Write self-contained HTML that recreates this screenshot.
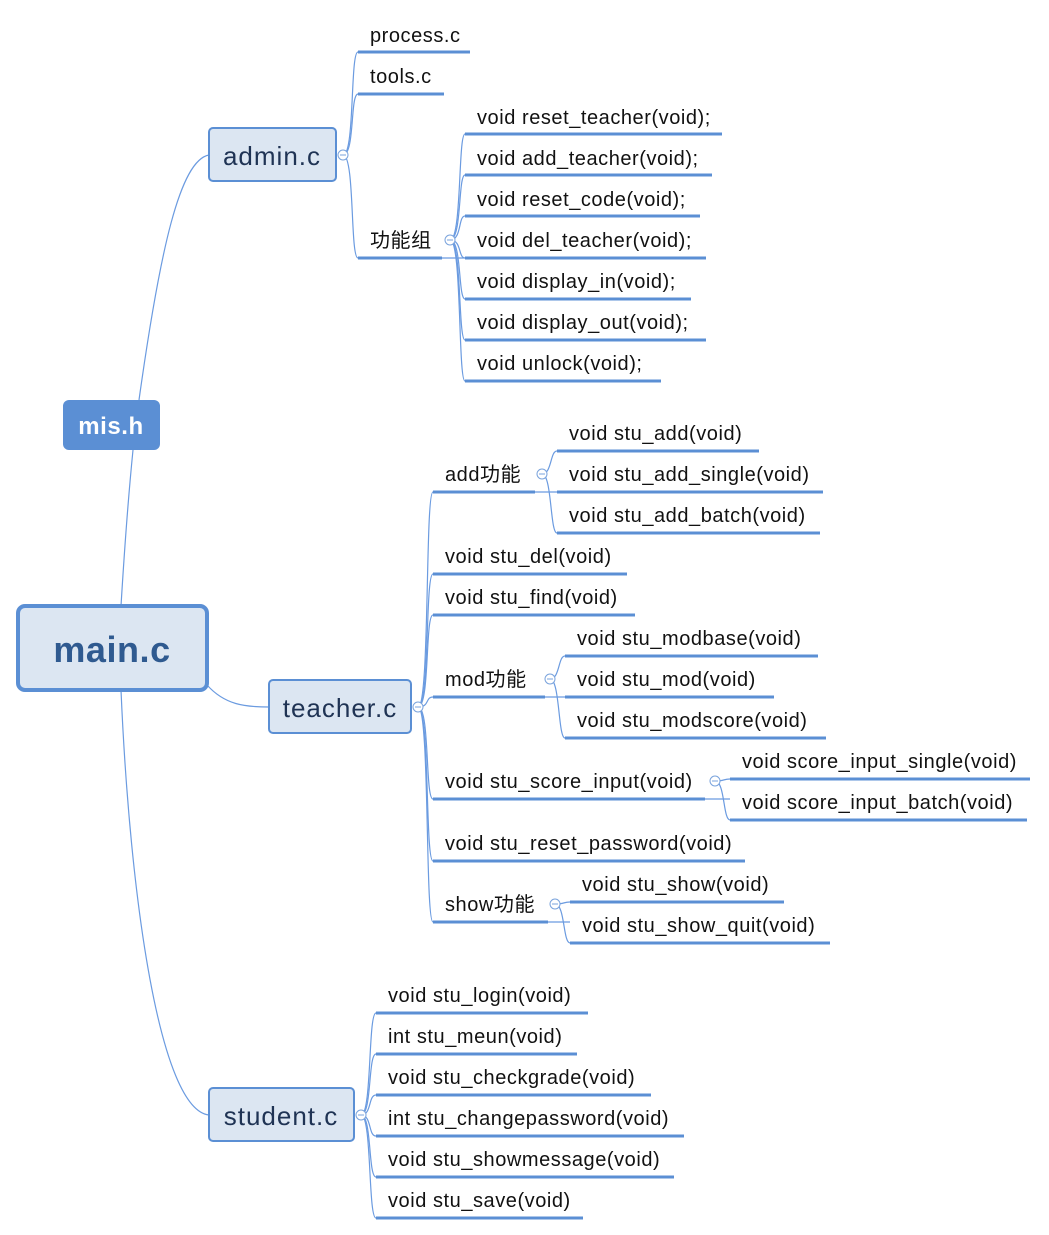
<!DOCTYPE html>
<html><head><meta charset="utf-8"><style>
body{margin:0;background:#fff}
svg{display:block}
text{font-family:"Liberation Sans","Noto Sans CJK SC",sans-serif;font-size:20px;fill:#111;letter-spacing:0.55px}
.u{stroke:#5b8fd4;stroke-width:3}
.c{stroke:#6b9be0;stroke-width:1.2;fill:none}
.k{fill:#fff;stroke:#7aa3dc;stroke-width:1}
</style></head><body>
<svg width="1049" height="1235" xmlns="http://www.w3.org/2000/svg">
<path class="c" d="M121 606 C125 540 130 480 133 450"/>
<path class="c" d="M139 400 C160 250 180 160 209 155"/>
<path class="c" d="M121 690 C130 900 160 1110 209 1115"/>
<path class="c" d="M207 685 C225 705 245 707 269 707"/>
<path class="c" d="M343 155 C355 155 350 52 358 52"/>
<path class="c" d="M343 155 C355 155 350 94 358 94"/>
<path class="c" d="M343 155 C355 155 350 258 358 258"/>
<g class="c">
<path d="M450 240 C462 240 458 134 465 134"/><path d="M450 240 C462 240 458 175 465 175"/><path d="M450 240 C462 240 458 216 465 216"/><path d="M450 240 C462 240 458 258 465 258"/><path d="M450 240 C462 240 458 299 465 299"/><path d="M450 240 C462 240 458 340 465 340"/><path d="M450 240 C462 240 458 381 465 381"/>
<line x1="442" y1="258" x2="465" y2="258"/>
</g>
<g class="u">
<line x1="358" y1="52" x2="470" y2="52"/><line x1="358" y1="94" x2="444" y2="94"/><line x1="358" y1="258" x2="442" y2="258"/>
<line x1="465" y1="134" x2="722" y2="134"/><line x1="465" y1="175" x2="712" y2="175"/><line x1="465" y1="216" x2="700" y2="216"/><line x1="465" y1="258" x2="706" y2="258"/><line x1="465" y1="299" x2="691" y2="299"/><line x1="465" y1="340" x2="706" y2="340"/><line x1="465" y1="381" x2="661" y2="381"/>
</g>
<text x="370" y="42">process.c</text><text x="370" y="83">tools.c</text><text x="370" y="247">功能组</text>
<text x="477" y="124">void reset_teacher(void);</text><text x="477" y="165">void add_teacher(void);</text><text x="477" y="206">void reset_code(void);</text><text x="477" y="247">void del_teacher(void);</text><text x="477" y="288">void display_in(void);</text><text x="477" y="329">void display_out(void);</text><text x="477" y="370">void unlock(void);</text>
<g class="c">
<path d="M418 707 C430 707 425 492 433 492"/><path d="M418 707 C430 707 425 574 433 574"/><path d="M418 707 C430 707 425 615 433 615"/><path d="M418 707 C430 707 425 697 433 697"/><path d="M418 707 C430 707 425 799 433 799"/><path d="M418 707 C430 707 425 861 433 861"/><path d="M418 707 C430 707 425 922 433 922"/>
<path d="M542 474 C552 474 550 451 557 451"/><path d="M542 474 C552 474 550 533 557 533"/><line x1="535" y1="492" x2="557" y2="492"/>
<path d="M550 679 C560 679 558 656 565 656"/><path d="M550 679 C560 679 558 738 565 738"/><line x1="545" y1="697" x2="565" y2="697"/>
<path d="M715 781 C725 781 723 779 730 779"/><path d="M715 781 C725 781 723 820 730 820"/><line x1="705" y1="799" x2="730" y2="799"/>
<path d="M555 904 C565 904 563 902 570 902"/><path d="M555 904 C565 904 563 943 570 943"/><line x1="548" y1="922" x2="570" y2="922"/>
</g>
<g class="u">
<line x1="433" y1="492" x2="535" y2="492"/><line x1="557" y1="451" x2="759" y2="451"/><line x1="557" y1="492" x2="823" y2="492"/><line x1="557" y1="533" x2="820" y2="533"/>
<line x1="433" y1="574" x2="627" y2="574"/><line x1="433" y1="615" x2="635" y2="615"/>
<line x1="433" y1="697" x2="545" y2="697"/><line x1="565" y1="656" x2="818" y2="656"/><line x1="565" y1="697" x2="774" y2="697"/><line x1="565" y1="738" x2="826" y2="738"/>
<line x1="433" y1="799" x2="705" y2="799"/><line x1="730" y1="779" x2="1030" y2="779"/><line x1="730" y1="820" x2="1027" y2="820"/>
<line x1="433" y1="861" x2="745" y2="861"/>
<line x1="433" y1="922" x2="548" y2="922"/><line x1="570" y1="902" x2="784" y2="902"/><line x1="570" y1="943" x2="830" y2="943"/>
</g>
<text x="445" y="481">add功能</text><text x="569" y="440">void stu_add(void)</text><text x="569" y="481">void stu_add_single(void)</text><text x="569" y="522">void stu_add_batch(void)</text>
<text x="445" y="563">void stu_del(void)</text><text x="445" y="604">void stu_find(void)</text>
<text x="445" y="686">mod功能</text><text x="577" y="645">void stu_modbase(void)</text><text x="577" y="686">void stu_mod(void)</text><text x="577" y="727">void stu_modscore(void)</text>
<text x="445" y="788">void stu_score_input(void)</text><text x="742" y="768">void score_input_single(void)</text><text x="742" y="809">void score_input_batch(void)</text>
<text x="445" y="850">void stu_reset_password(void)</text>
<text x="445" y="911">show功能</text><text x="582" y="891">void stu_show(void)</text><text x="582" y="932">void stu_show_quit(void)</text>
<g class="c">
<path d="M361 1115 C372 1115 368 1013 376 1013"/><path d="M361 1115 C372 1115 368 1054 376 1054"/><path d="M361 1115 C372 1115 368 1095 376 1095"/><path d="M361 1115 C372 1115 368 1136 376 1136"/><path d="M361 1115 C372 1115 368 1177 376 1177"/><path d="M361 1115 C372 1115 368 1218 376 1218"/>
</g>
<g class="u">
<line x1="376" y1="1013" x2="588" y2="1013"/><line x1="376" y1="1054" x2="577" y2="1054"/><line x1="376" y1="1095" x2="651" y2="1095"/><line x1="376" y1="1136" x2="684" y2="1136"/><line x1="376" y1="1177" x2="674" y2="1177"/><line x1="376" y1="1218" x2="583" y2="1218"/>
</g>
<text x="388" y="1002">void stu_login(void)</text><text x="388" y="1043">int stu_meun(void)</text><text x="388" y="1084">void stu_checkgrade(void)</text><text x="388" y="1125">int stu_changepassword(void)</text><text x="388" y="1166">void stu_showmessage(void)</text><text x="388" y="1207">void stu_save(void)</text>
<rect x="209" y="128" width="127" height="53" rx="4" fill="#dce6f2" stroke="#5b8fd4" stroke-width="2"/>
<text x="272" y="165" text-anchor="middle" style="font-size:26px;fill:#1f3354;letter-spacing:1px">admin.c</text>
<rect x="63" y="400" width="97" height="50" rx="6" fill="#5b8fd4"/>
<text x="111" y="434" text-anchor="middle" style="font-size:24px;font-weight:bold;fill:#fff">mis.h</text>
<rect x="18" y="606" width="189" height="84" rx="7" fill="#dce6f2" stroke="#5b8fd4" stroke-width="4"/>
<text x="112" y="662" text-anchor="middle" style="font-size:36px;font-weight:bold;fill:#2f5a90">main.c</text>
<rect x="269" y="680" width="142" height="53" rx="4" fill="#dce6f2" stroke="#5b8fd4" stroke-width="2"/>
<text x="340" y="717" text-anchor="middle" style="font-size:26px;fill:#1f3354;letter-spacing:1px">teacher.c</text>
<rect x="209" y="1088" width="145" height="53" rx="4" fill="#dce6f2" stroke="#5b8fd4" stroke-width="2"/>
<text x="281" y="1125" text-anchor="middle" style="font-size:26px;fill:#1f3354;letter-spacing:1px">student.c</text>
<g class="k"><circle cx="343" cy="155" r="5"/><circle cx="450" cy="240" r="5"/><circle cx="418" cy="707" r="5"/><circle cx="542" cy="474" r="5"/><circle cx="550" cy="679" r="5"/><circle cx="715" cy="781" r="5"/><circle cx="555" cy="904" r="5"/><circle cx="361" cy="1115" r="5"/></g>
<g stroke="#7aa3dc" stroke-width="1"><line x1="340" y1="155" x2="346" y2="155"/><line x1="447" y1="240" x2="453" y2="240"/><line x1="415" y1="707" x2="421" y2="707"/><line x1="539" y1="474" x2="545" y2="474"/><line x1="547" y1="679" x2="553" y2="679"/><line x1="712" y1="781" x2="718" y2="781"/><line x1="552" y1="904" x2="558" y2="904"/><line x1="358" y1="1115" x2="364" y2="1115"/></g>
</svg>
</body></html>
